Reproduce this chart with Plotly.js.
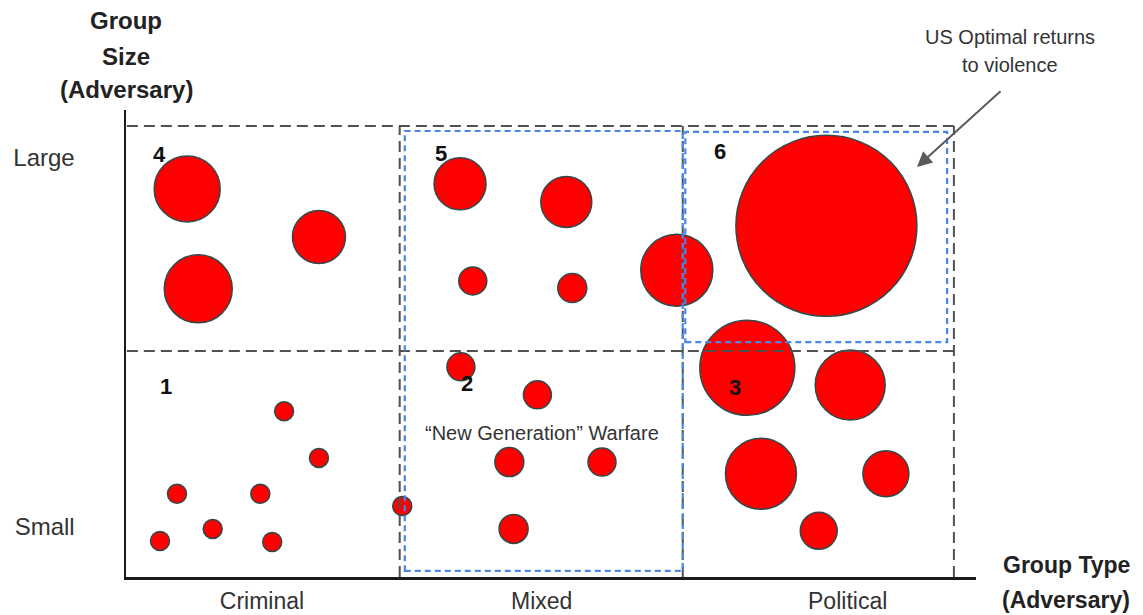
<!DOCTYPE html>
<html>
<head>
<meta charset="utf-8">
<script src="https://cdn.plot.ly/plotly-3.0.1.min.js"></script>
<style>html,body{margin:0;padding:0;background:#fff;}#chart{width:1143px;height:615px;}</style>
</head>
<body>
<div id="chart"></div>
<script>
// Group type scale (x) and group size scale (y), both 0..10
const typeCategories = ['Criminal', 'Mixed', 'Political'];
const typeTickVals = [1.6, 4.89, 8.49];
const sizeCategories = ['Large', 'Small'];
const sizeTickVals = [8.99, 1.09];

// Bubbles: adversary groups
const bubbleX = [0.72, 2.27, 0.85,
                 3.93, 5.18, 4.08, 5.25, 6.48,
                 8.24,
                 7.31, 8.52, 7.47, 8.94, 8.15,
                 3.94, 4.84, 4.51, 5.60, 4.56, 3.25,
                 1.86, 2.27, 0.60, 1.58, 1.02, 0.40, 1.72];
const bubbleY = [8.31, 7.28, 6.17,
                 8.42, 8.03, 6.34, 6.19, 6.57,
                 7.52,
                 4.48, 4.11, 2.21, 2.21, 0.99,
                 4.50, 3.90, 2.46, 2.46, 1.03, 1.52,
                 3.55, 2.55, 1.78, 1.78, 1.03, 0.77, 0.75];
const bubbleValue = [66, 53, 68,
                     52, 51, 28, 29, 72,
                     181,
                     95, 70, 71, 46, 37,
                     28, 28, 29, 28, 29, 19,
                     19, 19, 19, 19, 19, 19, 19];

// Quadrant numbers
const quadLabels = ['4', '5', '6', '1', '2', '3'];
const quadX = [0.39, 3.70, 6.99, 0.47, 4.01, 7.16];
const quadY = [9.05, 9.07, 9.11, 4.07, 4.15, 4.06];

const font = 'Liberation Sans, Arial, sans-serif';

const trace = {
  type: 'scatter', mode: 'markers',
  x: bubbleX, y: bubbleY,
  marker: {size: bubbleValue, sizemode: 'diameter', color: '#ff0000',
           opacity: 1, line: {color: '#2f4a4a', width: 1.5}},
  hoverinfo: 'skip', cliponaxis: false
};

const blk = {color: '#505050', width: 2, dash: '11px,6px'};
const blu = {color: '#4a86e8', width: 2.2, dash: '6px,4px'};
const shapes = [
  {type: 'line', xref: 'x', yref: 'y', x0: 0.01, x1: 9.74, y0: 9.66, y1: 9.66, line: blk},
  {type: 'line', xref: 'x', yref: 'y', x0: 0.01, x1: 9.74, y0: 4.84, y1: 4.84, line: blk},
  {type: 'line', xref: 'x', yref: 'y', x0: 3.22, x1: 3.22, y0: 0, y1: 9.66, line: blk},
  {type: 'line', xref: 'x', yref: 'y', x0: 6.55, x1: 6.55, y0: 0, y1: 9.66, line: blk},
  {type: 'line', xref: 'x', yref: 'y', x0: 9.74, x1: 9.74, y0: 0, y1: 9.66, line: blk},
  {type: 'rect', xref: 'x', yref: 'y', x0: 3.28, x1: 6.55, y0: 0.13, y1: 9.55, line: blu},
  {type: 'rect', xref: 'x', yref: 'y', x0: 6.58, x1: 9.66, y0: 5.03, y1: 9.53, line: blu}
];

const annotations = [];
quadLabels.forEach((t, i) => annotations.push({
  x: quadX[i], y: quadY[i], xref: 'x', yref: 'y', text: '<b>' + t + '</b>', showarrow: false,
  font: {family: font, size: 22, color: '#111'}, xanchor: 'center', yanchor: 'middle'
}));
const L = 126, T = 110, W = 850, H = 467;
function ptxt(text, px, py, size, bold, color) {
  annotations.push({x: (px - L) / W, y: 1 - (py - T) / H, xref: 'paper', yref: 'paper',
    text: bold ? '<b>' + text + '</b>' : text, showarrow: false,
    xanchor: 'center', yanchor: 'middle',
    font: {family: font, size: size, color: color || '#222'}});
}
ptxt('Group', 126, 21, 24, true);
ptxt('Size', 126, 56, 24, true);
ptxt('(Adversary)', 126, 90, 24, true);
ptxt('Group Type', 1066, 565, 23, true);
ptxt('(Adversary)', 1066, 600, 23, true);
ptxt('US Optimal returns', 1010, 37, 20, false, '#333');
ptxt('to violence', 1010, 65, 20, false, '#333');
ptxt('\u201cNew Generation\u201d Warfare', 542, 433, 20, false, '#333');
annotations.push({x: 9.306, y: 8.78, xref: 'x', yref: 'y', text: '', showarrow: true,
  ax: 85, ay: -77, arrowhead: 2, arrowsize: 1.5, arrowwidth: 2, arrowcolor: '#5a5a5a'});

const layout = {
  width: 1143, height: 615,
  margin: {l: L, r: 1143 - L - W, t: T, b: 615 - T - H},
  paper_bgcolor: '#fff', plot_bgcolor: '#fff', showlegend: false,
  xaxis: {range: [0, 10], showgrid: false, zeroline: false, showline: true,
          linecolor: '#1a1a1a', linewidth: 2.5, tickvals: typeTickVals, ticktext: typeCategories,
          ticks: '', ticklabelstandoff: 2, tickfont: {family: font, size: 23, color: '#333'}, fixedrange: true},
  yaxis: {range: [0, 10], showgrid: false, zeroline: false, showline: true,
          linecolor: '#1a1a1a', linewidth: 2.5, tickvals: sizeTickVals, ticktext: sizeCategories,
          ticks: '', ticklabelstandoff: 44, tickfont: {family: font, size: 24, color: '#333'}, fixedrange: true},
  shapes: shapes, annotations: annotations
};
Plotly.newPlot('chart', [trace], layout, {staticPlot: true, displayModeBar: false});
</script>
</body>
</html>
